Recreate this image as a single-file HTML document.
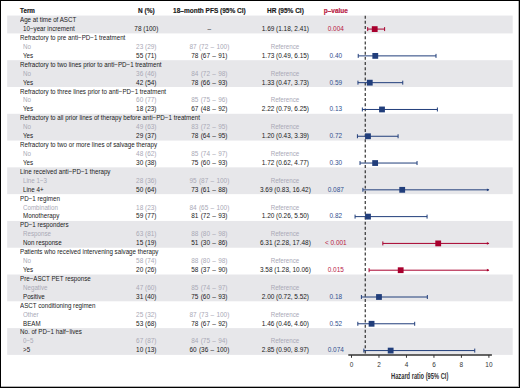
<!DOCTYPE html><html><head><meta charset="utf-8"><style>
*{margin:0;padding:0;box-sizing:border-box}
html,body{width:520px;height:388px;overflow:hidden;background:#fff}
.t{}
body{position:relative;font-family:"Liberation Sans",sans-serif;color:#1a1a1a}
.t{position:absolute;line-height:10px;height:10px;white-space:nowrap}
.c{transform:translateX(-50%)}
.g{color:#a9a9b6}
.b{font-weight:bold;-webkit-text-stroke:0.15px currentColor}
.band{position:absolute;left:7px;width:506px;background:#e7e7ea}
.pr{color:#b8193f}.pb{color:#2f4f8f}
svg{position:absolute;left:0;top:0}
</style></head><body>
<svg width="520" height="388" style="position:absolute;left:0;top:0"><rect x="7.20" y="15.55" width="505.50" height="17.86" fill="#e7e7ea"/><rect x="7.20" y="60.20" width="505.50" height="26.79" fill="#e7e7ea"/><rect x="7.20" y="113.78" width="505.50" height="26.79" fill="#e7e7ea"/><rect x="7.20" y="167.36" width="505.50" height="26.79" fill="#e7e7ea"/><rect x="7.20" y="220.94" width="505.50" height="26.79" fill="#e7e7ea"/><rect x="7.20" y="274.52" width="505.50" height="26.79" fill="#e7e7ea"/><rect x="7.20" y="328.10" width="505.50" height="26.79" fill="#e7e7ea"/></svg>
<div class="t b" style="left:19.70px;top:5.75px;font-size:6.50px;transform:scaleX(0.970);transform-origin:0 0;">Term</div>
<div class="t b" style="left:146.30px;top:5.75px;font-size:6.50px;transform:translateX(-50%);transform-origin:50% 0;">N (%)</div>
<div class="t b" style="left:209.40px;top:5.75px;font-size:6.50px;transform:translateX(-50%);transform-origin:50% 0;">18–month PFS (95% CI)</div>
<div class="t b" style="left:285.40px;top:5.75px;font-size:6.50px;transform:translateX(-50%);transform-origin:50% 0;">HR (95% CI)</div>
<div class="t b pr" style="left:335.80px;top:5.75px;font-size:6.50px;transform:translateX(-50%);transform-origin:50% 0;">p–value</div>
<div class="t" style="left:19.70px;top:14.77px;font-size:6.45px;transform:scaleX(0.965);transform-origin:0 0;">Age at time of ASCT</div>
<div class="t" style="left:23.00px;top:23.77px;font-size:6.45px;transform:scaleX(0.965);transform-origin:0 0;">10−year increment</div>
<div class="t" style="left:146.30px;top:23.77px;font-size:6.45px;transform:translateX(-50%);transform-origin:50% 0;">78 (100)</div>
<div class="t" style="left:209.40px;top:23.77px;font-size:6.45px;transform:translateX(-50%);transform-origin:50% 0;word-spacing:0.5px">–</div>
<div class="t" style="left:285.40px;top:23.77px;font-size:6.45px;transform:translateX(-50%);transform-origin:50% 0;">1.69 (1.18, 2.41)</div>
<div class="t pr" style="left:335.80px;top:23.77px;font-size:6.45px;transform:translateX(-50%);transform-origin:50% 0;">0.004</div>
<div class="t" style="left:19.70px;top:32.77px;font-size:6.45px;transform:scaleX(0.965);transform-origin:0 0;">Refractory to pre anti−PD−1 treatment</div>
<div class="t g" style="left:23.00px;top:41.77px;font-size:6.45px;transform:scaleX(0.965);transform-origin:0 0;">No</div>
<div class="t g" style="left:146.30px;top:41.77px;font-size:6.45px;transform:translateX(-50%);transform-origin:50% 0;">23 (29)</div>
<div class="t g" style="left:209.40px;top:41.77px;font-size:6.45px;transform:translateX(-50%);transform-origin:50% 0;word-spacing:0.5px">87 (72 – 100)</div>
<div class="t g" style="left:285.40px;top:41.77px;font-size:6.45px;transform:translateX(-50%) scaleX(0.965);transform-origin:50% 0;">Reference</div>
<div class="t" style="left:23.00px;top:50.77px;font-size:6.45px;transform:scaleX(0.965);transform-origin:0 0;">Yes</div>
<div class="t" style="left:146.30px;top:50.77px;font-size:6.45px;transform:translateX(-50%);transform-origin:50% 0;">55 (71)</div>
<div class="t" style="left:209.40px;top:50.77px;font-size:6.45px;transform:translateX(-50%);transform-origin:50% 0;word-spacing:0.5px">78 (67 – 91)</div>
<div class="t" style="left:285.40px;top:50.77px;font-size:6.45px;transform:translateX(-50%);transform-origin:50% 0;">1.73 (0.49, 6.15)</div>
<div class="t pb" style="left:335.80px;top:50.77px;font-size:6.45px;transform:translateX(-50%);transform-origin:50% 0;">0.40</div>
<div class="t" style="left:19.70px;top:59.77px;font-size:6.45px;transform:scaleX(0.965);transform-origin:0 0;">Refractory to two lines prior to anti−PD−1 treatment</div>
<div class="t g" style="left:23.00px;top:68.77px;font-size:6.45px;transform:scaleX(0.965);transform-origin:0 0;">No</div>
<div class="t g" style="left:146.30px;top:68.77px;font-size:6.45px;transform:translateX(-50%);transform-origin:50% 0;">36 (46)</div>
<div class="t g" style="left:209.40px;top:68.77px;font-size:6.45px;transform:translateX(-50%);transform-origin:50% 0;word-spacing:0.5px">84 (72 – 98)</div>
<div class="t g" style="left:285.40px;top:68.77px;font-size:6.45px;transform:translateX(-50%) scaleX(0.965);transform-origin:50% 0;">Reference</div>
<div class="t" style="left:23.00px;top:77.77px;font-size:6.45px;transform:scaleX(0.965);transform-origin:0 0;">Yes</div>
<div class="t" style="left:146.30px;top:77.77px;font-size:6.45px;transform:translateX(-50%);transform-origin:50% 0;">42 (54)</div>
<div class="t" style="left:209.40px;top:77.77px;font-size:6.45px;transform:translateX(-50%);transform-origin:50% 0;word-spacing:0.5px">78 (66 – 93)</div>
<div class="t" style="left:285.40px;top:77.77px;font-size:6.45px;transform:translateX(-50%);transform-origin:50% 0;">1.33 (0.47, 3.73)</div>
<div class="t pb" style="left:335.80px;top:77.77px;font-size:6.45px;transform:translateX(-50%);transform-origin:50% 0;">0.59</div>
<div class="t" style="left:19.70px;top:86.77px;font-size:6.45px;transform:scaleX(0.965);transform-origin:0 0;">Refractory to three lines prior to anti−PD−1 treatment</div>
<div class="t g" style="left:23.00px;top:94.77px;font-size:6.45px;transform:scaleX(0.965);transform-origin:0 0;">No</div>
<div class="t g" style="left:146.30px;top:94.77px;font-size:6.45px;transform:translateX(-50%);transform-origin:50% 0;">60 (77)</div>
<div class="t g" style="left:209.40px;top:94.77px;font-size:6.45px;transform:translateX(-50%);transform-origin:50% 0;word-spacing:0.5px">85 (75 – 96)</div>
<div class="t g" style="left:285.40px;top:94.77px;font-size:6.45px;transform:translateX(-50%) scaleX(0.965);transform-origin:50% 0;">Reference</div>
<div class="t" style="left:23.00px;top:103.77px;font-size:6.45px;transform:scaleX(0.965);transform-origin:0 0;">Yes</div>
<div class="t" style="left:146.30px;top:103.77px;font-size:6.45px;transform:translateX(-50%);transform-origin:50% 0;">18 (23)</div>
<div class="t" style="left:209.40px;top:103.77px;font-size:6.45px;transform:translateX(-50%);transform-origin:50% 0;word-spacing:0.5px">67 (48 – 92)</div>
<div class="t" style="left:285.40px;top:103.77px;font-size:6.45px;transform:translateX(-50%);transform-origin:50% 0;">2.22 (0.79, 6.25)</div>
<div class="t pb" style="left:335.80px;top:103.77px;font-size:6.45px;transform:translateX(-50%);transform-origin:50% 0;">0.13</div>
<div class="t" style="left:19.70px;top:112.77px;font-size:6.45px;transform:scaleX(0.965);transform-origin:0 0;">Refractory to all prior lines of therapy before anti−PD−1 treatment</div>
<div class="t g" style="left:23.00px;top:121.77px;font-size:6.45px;transform:scaleX(0.965);transform-origin:0 0;">No</div>
<div class="t g" style="left:146.30px;top:121.77px;font-size:6.45px;transform:translateX(-50%);transform-origin:50% 0;">49 (63)</div>
<div class="t g" style="left:209.40px;top:121.77px;font-size:6.45px;transform:translateX(-50%);transform-origin:50% 0;word-spacing:0.5px">83 (72 – 95)</div>
<div class="t g" style="left:285.40px;top:121.77px;font-size:6.45px;transform:translateX(-50%) scaleX(0.965);transform-origin:50% 0;">Reference</div>
<div class="t" style="left:23.00px;top:130.77px;font-size:6.45px;transform:scaleX(0.965);transform-origin:0 0;">Yes</div>
<div class="t" style="left:146.30px;top:130.77px;font-size:6.45px;transform:translateX(-50%);transform-origin:50% 0;">29 (37)</div>
<div class="t" style="left:209.40px;top:130.77px;font-size:6.45px;transform:translateX(-50%);transform-origin:50% 0;word-spacing:0.5px">78 (64 – 95)</div>
<div class="t" style="left:285.40px;top:130.77px;font-size:6.45px;transform:translateX(-50%);transform-origin:50% 0;">1.20 (0.43, 3.39)</div>
<div class="t pb" style="left:335.80px;top:130.77px;font-size:6.45px;transform:translateX(-50%);transform-origin:50% 0;">0.72</div>
<div class="t" style="left:19.70px;top:139.77px;font-size:6.45px;transform:scaleX(0.965);transform-origin:0 0;">Refractory to two or more lines of salvage therapy</div>
<div class="t g" style="left:23.00px;top:148.77px;font-size:6.45px;transform:scaleX(0.965);transform-origin:0 0;">No</div>
<div class="t g" style="left:146.30px;top:148.77px;font-size:6.45px;transform:translateX(-50%);transform-origin:50% 0;">48 (62)</div>
<div class="t g" style="left:209.40px;top:148.77px;font-size:6.45px;transform:translateX(-50%);transform-origin:50% 0;word-spacing:0.5px">85 (74 – 97)</div>
<div class="t g" style="left:285.40px;top:148.77px;font-size:6.45px;transform:translateX(-50%) scaleX(0.965);transform-origin:50% 0;">Reference</div>
<div class="t" style="left:23.00px;top:157.77px;font-size:6.45px;transform:scaleX(0.965);transform-origin:0 0;">Yes</div>
<div class="t" style="left:146.30px;top:157.77px;font-size:6.45px;transform:translateX(-50%);transform-origin:50% 0;">30 (38)</div>
<div class="t" style="left:209.40px;top:157.77px;font-size:6.45px;transform:translateX(-50%);transform-origin:50% 0;word-spacing:0.5px">75 (60 – 93)</div>
<div class="t" style="left:285.40px;top:157.77px;font-size:6.45px;transform:translateX(-50%);transform-origin:50% 0;">1.72 (0.62, 4.77)</div>
<div class="t pb" style="left:335.80px;top:157.77px;font-size:6.45px;transform:translateX(-50%);transform-origin:50% 0;">0.30</div>
<div class="t" style="left:19.70px;top:166.77px;font-size:6.45px;transform:scaleX(0.965);transform-origin:0 0;">Line received anti−PD−1 therapy</div>
<div class="t g" style="left:23.00px;top:175.77px;font-size:6.45px;transform:scaleX(0.965);transform-origin:0 0;">Line 1−3</div>
<div class="t g" style="left:146.30px;top:175.77px;font-size:6.45px;transform:translateX(-50%);transform-origin:50% 0;">28 (36)</div>
<div class="t g" style="left:209.40px;top:175.77px;font-size:6.45px;transform:translateX(-50%);transform-origin:50% 0;word-spacing:0.5px">95 (87 – 100)</div>
<div class="t g" style="left:285.40px;top:175.77px;font-size:6.45px;transform:translateX(-50%) scaleX(0.965);transform-origin:50% 0;">Reference</div>
<div class="t" style="left:23.00px;top:184.77px;font-size:6.45px;transform:scaleX(0.965);transform-origin:0 0;">Line 4+</div>
<div class="t" style="left:146.30px;top:184.77px;font-size:6.45px;transform:translateX(-50%);transform-origin:50% 0;">50 (64)</div>
<div class="t" style="left:209.40px;top:184.77px;font-size:6.45px;transform:translateX(-50%);transform-origin:50% 0;word-spacing:0.5px">73 (61 – 88)</div>
<div class="t" style="left:285.40px;top:184.77px;font-size:6.45px;transform:translateX(-50%);transform-origin:50% 0;">3.69 (0.83, 16.42)</div>
<div class="t pb" style="left:335.80px;top:184.77px;font-size:6.45px;transform:translateX(-50%);transform-origin:50% 0;">0.087</div>
<div class="t" style="left:19.70px;top:193.77px;font-size:6.45px;transform:scaleX(0.965);transform-origin:0 0;">PD−1 regimen</div>
<div class="t g" style="left:23.00px;top:202.77px;font-size:6.45px;transform:scaleX(0.965);transform-origin:0 0;">Combination</div>
<div class="t g" style="left:146.30px;top:202.77px;font-size:6.45px;transform:translateX(-50%);transform-origin:50% 0;">18 (23)</div>
<div class="t g" style="left:209.40px;top:202.77px;font-size:6.45px;transform:translateX(-50%);transform-origin:50% 0;word-spacing:0.5px">84 (65 – 100)</div>
<div class="t g" style="left:285.40px;top:202.77px;font-size:6.45px;transform:translateX(-50%) scaleX(0.965);transform-origin:50% 0;">Reference</div>
<div class="t" style="left:23.00px;top:210.77px;font-size:6.45px;transform:scaleX(0.965);transform-origin:0 0;">Monotherapy</div>
<div class="t" style="left:146.30px;top:210.77px;font-size:6.45px;transform:translateX(-50%);transform-origin:50% 0;">59 (77)</div>
<div class="t" style="left:209.40px;top:210.77px;font-size:6.45px;transform:translateX(-50%);transform-origin:50% 0;word-spacing:0.5px">81 (72 – 93)</div>
<div class="t" style="left:285.40px;top:210.77px;font-size:6.45px;transform:translateX(-50%);transform-origin:50% 0;">1.20 (0.26, 5.50)</div>
<div class="t pb" style="left:335.80px;top:210.77px;font-size:6.45px;transform:translateX(-50%);transform-origin:50% 0;">0.82</div>
<div class="t" style="left:19.70px;top:219.77px;font-size:6.45px;transform:scaleX(0.965);transform-origin:0 0;">PD−1 responders</div>
<div class="t g" style="left:23.00px;top:228.77px;font-size:6.45px;transform:scaleX(0.965);transform-origin:0 0;">Response</div>
<div class="t g" style="left:146.30px;top:228.77px;font-size:6.45px;transform:translateX(-50%);transform-origin:50% 0;">63 (81)</div>
<div class="t g" style="left:209.40px;top:228.77px;font-size:6.45px;transform:translateX(-50%);transform-origin:50% 0;word-spacing:0.5px">88 (80 – 98)</div>
<div class="t g" style="left:285.40px;top:228.77px;font-size:6.45px;transform:translateX(-50%) scaleX(0.965);transform-origin:50% 0;">Reference</div>
<div class="t" style="left:23.00px;top:237.77px;font-size:6.45px;transform:scaleX(0.965);transform-origin:0 0;">Non response</div>
<div class="t" style="left:146.30px;top:237.77px;font-size:6.45px;transform:translateX(-50%);transform-origin:50% 0;">15 (19)</div>
<div class="t" style="left:209.40px;top:237.77px;font-size:6.45px;transform:translateX(-50%);transform-origin:50% 0;word-spacing:0.5px">51 (30 – 86)</div>
<div class="t" style="left:285.40px;top:237.77px;font-size:6.45px;transform:translateX(-50%);transform-origin:50% 0;">6.31 (2.28, 17.48)</div>
<div class="t pr" style="left:335.80px;top:237.77px;font-size:6.45px;transform:translateX(-50%);transform-origin:50% 0;">&lt; 0.001</div>
<div class="t" style="left:19.70px;top:246.77px;font-size:6.45px;transform:scaleX(0.965);transform-origin:0 0;">Patients who received intervening salvage therapy</div>
<div class="t g" style="left:23.00px;top:255.77px;font-size:6.45px;transform:scaleX(0.965);transform-origin:0 0;">No</div>
<div class="t g" style="left:146.30px;top:255.77px;font-size:6.45px;transform:translateX(-50%);transform-origin:50% 0;">58 (74)</div>
<div class="t g" style="left:209.40px;top:255.77px;font-size:6.45px;transform:translateX(-50%);transform-origin:50% 0;word-spacing:0.5px">88 (80 – 98)</div>
<div class="t g" style="left:285.40px;top:255.77px;font-size:6.45px;transform:translateX(-50%) scaleX(0.965);transform-origin:50% 0;">Reference</div>
<div class="t" style="left:23.00px;top:264.77px;font-size:6.45px;transform:scaleX(0.965);transform-origin:0 0;">Yes</div>
<div class="t" style="left:146.30px;top:264.77px;font-size:6.45px;transform:translateX(-50%);transform-origin:50% 0;">20 (26)</div>
<div class="t" style="left:209.40px;top:264.77px;font-size:6.45px;transform:translateX(-50%);transform-origin:50% 0;word-spacing:0.5px">58 (37 – 90)</div>
<div class="t" style="left:285.40px;top:264.77px;font-size:6.45px;transform:translateX(-50%);transform-origin:50% 0;">3.58 (1.28, 10.06)</div>
<div class="t pr" style="left:335.80px;top:264.77px;font-size:6.45px;transform:translateX(-50%);transform-origin:50% 0;">0.015</div>
<div class="t" style="left:19.70px;top:273.77px;font-size:6.45px;transform:scaleX(0.965);transform-origin:0 0;">Pre−ASCT PET response</div>
<div class="t g" style="left:23.00px;top:282.77px;font-size:6.45px;transform:scaleX(0.965);transform-origin:0 0;">Negative</div>
<div class="t g" style="left:146.30px;top:282.77px;font-size:6.45px;transform:translateX(-50%);transform-origin:50% 0;">47 (60)</div>
<div class="t g" style="left:209.40px;top:282.77px;font-size:6.45px;transform:translateX(-50%);transform-origin:50% 0;word-spacing:0.5px">85 (74 – 97)</div>
<div class="t g" style="left:285.40px;top:282.77px;font-size:6.45px;transform:translateX(-50%) scaleX(0.965);transform-origin:50% 0;">Reference</div>
<div class="t" style="left:23.00px;top:291.77px;font-size:6.45px;transform:scaleX(0.965);transform-origin:0 0;">Positive</div>
<div class="t" style="left:146.30px;top:291.77px;font-size:6.45px;transform:translateX(-50%);transform-origin:50% 0;">31 (40)</div>
<div class="t" style="left:209.40px;top:291.77px;font-size:6.45px;transform:translateX(-50%);transform-origin:50% 0;word-spacing:0.5px">75 (60 – 93)</div>
<div class="t" style="left:285.40px;top:291.77px;font-size:6.45px;transform:translateX(-50%);transform-origin:50% 0;">2.00 (0.72, 5.52)</div>
<div class="t pb" style="left:335.80px;top:291.77px;font-size:6.45px;transform:translateX(-50%);transform-origin:50% 0;">0.18</div>
<div class="t" style="left:19.70px;top:300.77px;font-size:6.45px;transform:scaleX(0.965);transform-origin:0 0;">ASCT conditioning regimen</div>
<div class="t g" style="left:23.00px;top:309.77px;font-size:6.45px;transform:scaleX(0.965);transform-origin:0 0;">Other</div>
<div class="t g" style="left:146.30px;top:309.77px;font-size:6.45px;transform:translateX(-50%);transform-origin:50% 0;">25 (32)</div>
<div class="t g" style="left:209.40px;top:309.77px;font-size:6.45px;transform:translateX(-50%);transform-origin:50% 0;word-spacing:0.5px">87 (73 – 100)</div>
<div class="t g" style="left:285.40px;top:309.77px;font-size:6.45px;transform:translateX(-50%) scaleX(0.965);transform-origin:50% 0;">Reference</div>
<div class="t" style="left:23.00px;top:318.77px;font-size:6.45px;transform:scaleX(0.965);transform-origin:0 0;">BEAM</div>
<div class="t" style="left:146.30px;top:318.77px;font-size:6.45px;transform:translateX(-50%);transform-origin:50% 0;">53 (68)</div>
<div class="t" style="left:209.40px;top:318.77px;font-size:6.45px;transform:translateX(-50%);transform-origin:50% 0;word-spacing:0.5px">78 (67 – 92)</div>
<div class="t" style="left:285.40px;top:318.77px;font-size:6.45px;transform:translateX(-50%);transform-origin:50% 0;">1.46 (0.46, 4.60)</div>
<div class="t pb" style="left:335.80px;top:318.77px;font-size:6.45px;transform:translateX(-50%);transform-origin:50% 0;">0.52</div>
<div class="t" style="left:19.70px;top:326.77px;font-size:6.45px;transform:scaleX(0.965);transform-origin:0 0;">No. of PD−1 half−lives</div>
<div class="t g" style="left:23.00px;top:335.77px;font-size:6.45px;transform:scaleX(0.965);transform-origin:0 0;">0−5</div>
<div class="t g" style="left:146.30px;top:335.77px;font-size:6.45px;transform:translateX(-50%);transform-origin:50% 0;">67 (87)</div>
<div class="t g" style="left:209.40px;top:335.77px;font-size:6.45px;transform:translateX(-50%);transform-origin:50% 0;word-spacing:0.5px">84 (75 – 94)</div>
<div class="t g" style="left:285.40px;top:335.77px;font-size:6.45px;transform:translateX(-50%) scaleX(0.965);transform-origin:50% 0;">Reference</div>
<div class="t" style="left:23.00px;top:344.77px;font-size:6.45px;transform:scaleX(0.965);transform-origin:0 0;">&gt;5</div>
<div class="t" style="left:146.30px;top:344.77px;font-size:6.45px;transform:translateX(-50%);transform-origin:50% 0;">10 (13)</div>
<div class="t" style="left:209.40px;top:344.77px;font-size:6.45px;transform:translateX(-50%);transform-origin:50% 0;word-spacing:0.5px">60 (36 – 100)</div>
<div class="t" style="left:285.40px;top:344.77px;font-size:6.45px;transform:translateX(-50%);transform-origin:50% 0;">2.85 (0.90, 8.97)</div>
<div class="t pb" style="left:335.80px;top:344.77px;font-size:6.45px;transform:translateX(-50%);transform-origin:50% 0;">0.074</div>
<svg width="520" height="388" viewBox="0 0 520 388"><line x1="365.24" y1="15.71" x2="365.24" y2="355" stroke="#222" stroke-width="1.10" stroke-dasharray="2.95 2.2"/><line x1="367.71" y1="29.09" x2="384.61" y2="29.09" stroke="#a8002e" stroke-width="1.00"/><line x1="367.71" y1="27.09" x2="367.71" y2="31.09" stroke="#a8002e" stroke-width="1"/><line x1="384.61" y1="27.09" x2="384.61" y2="31.09" stroke="#a8002e" stroke-width="1"/><rect x="371.82" y="26.20" width="5.80" height="5.80" fill="#a8002e"/><line x1="358.23" y1="55.89" x2="436.00" y2="55.89" stroke="#213e7b" stroke-width="1.00"/><line x1="358.23" y1="53.89" x2="358.23" y2="57.89" stroke="#213e7b" stroke-width="1"/><line x1="436.00" y1="53.89" x2="436.00" y2="57.89" stroke="#213e7b" stroke-width="1"/><rect x="372.37" y="52.99" width="5.80" height="5.80" fill="#213e7b"/><line x1="357.96" y1="82.67" x2="402.75" y2="82.67" stroke="#213e7b" stroke-width="1.00"/><line x1="357.96" y1="80.67" x2="357.96" y2="84.67" stroke="#213e7b" stroke-width="1"/><line x1="402.75" y1="80.67" x2="402.75" y2="84.67" stroke="#213e7b" stroke-width="1"/><rect x="366.87" y="79.77" width="5.80" height="5.80" fill="#213e7b"/><line x1="362.35" y1="109.47" x2="437.38" y2="109.47" stroke="#213e7b" stroke-width="1.00"/><line x1="362.35" y1="107.47" x2="362.35" y2="111.47" stroke="#213e7b" stroke-width="1"/><line x1="437.38" y1="107.47" x2="437.38" y2="111.47" stroke="#213e7b" stroke-width="1"/><rect x="379.10" y="106.56" width="5.80" height="5.80" fill="#213e7b"/><line x1="357.41" y1="136.25" x2="398.08" y2="136.25" stroke="#213e7b" stroke-width="1.00"/><line x1="357.41" y1="134.25" x2="357.41" y2="138.25" stroke="#213e7b" stroke-width="1"/><line x1="398.08" y1="134.25" x2="398.08" y2="138.25" stroke="#213e7b" stroke-width="1"/><rect x="365.09" y="133.35" width="5.80" height="5.80" fill="#213e7b"/><line x1="360.02" y1="163.04" x2="417.04" y2="163.04" stroke="#213e7b" stroke-width="1.00"/><line x1="360.02" y1="161.04" x2="360.02" y2="165.04" stroke="#213e7b" stroke-width="1"/><line x1="417.04" y1="161.04" x2="417.04" y2="165.04" stroke="#213e7b" stroke-width="1"/><rect x="372.23" y="160.14" width="5.80" height="5.80" fill="#213e7b"/><line x1="362.90" y1="189.83" x2="488.90" y2="189.83" stroke="#213e7b" stroke-width="1.00"/><line x1="362.90" y1="187.83" x2="362.90" y2="191.83" stroke="#213e7b" stroke-width="1"/><path d="M489.40 189.83L486.90 188.43L486.90 191.23Z" fill="#213e7b"/><rect x="399.30" y="186.93" width="5.80" height="5.80" fill="#213e7b"/><line x1="355.07" y1="216.62" x2="427.07" y2="216.62" stroke="#213e7b" stroke-width="1.00"/><line x1="355.07" y1="214.62" x2="355.07" y2="218.62" stroke="#213e7b" stroke-width="1"/><line x1="427.07" y1="214.62" x2="427.07" y2="218.62" stroke="#213e7b" stroke-width="1"/><rect x="365.09" y="213.72" width="5.80" height="5.80" fill="#213e7b"/><line x1="382.83" y1="243.41" x2="488.90" y2="243.41" stroke="#a8002e" stroke-width="1.00"/><line x1="382.83" y1="241.41" x2="382.83" y2="245.41" stroke="#a8002e" stroke-width="1"/><path d="M489.40 243.41L486.90 242.01L486.90 244.81Z" fill="#a8002e"/><rect x="435.30" y="240.51" width="5.80" height="5.80" fill="#a8002e"/><line x1="369.09" y1="270.20" x2="488.90" y2="270.20" stroke="#a8002e" stroke-width="1.00"/><line x1="369.09" y1="268.20" x2="369.09" y2="272.20" stroke="#a8002e" stroke-width="1"/><path d="M489.40 270.20L486.90 268.81L486.90 271.60Z" fill="#a8002e"/><rect x="397.79" y="267.31" width="5.80" height="5.80" fill="#a8002e"/><line x1="361.39" y1="297.00" x2="427.34" y2="297.00" stroke="#213e7b" stroke-width="1.00"/><line x1="361.39" y1="295.00" x2="361.39" y2="299.00" stroke="#213e7b" stroke-width="1"/><line x1="427.34" y1="295.00" x2="427.34" y2="299.00" stroke="#213e7b" stroke-width="1"/><rect x="376.08" y="294.10" width="5.80" height="5.80" fill="#213e7b"/><line x1="357.82" y1="323.78" x2="414.70" y2="323.78" stroke="#213e7b" stroke-width="1.00"/><line x1="357.82" y1="321.78" x2="357.82" y2="325.78" stroke="#213e7b" stroke-width="1"/><line x1="414.70" y1="321.78" x2="414.70" y2="325.78" stroke="#213e7b" stroke-width="1"/><rect x="368.66" y="320.88" width="5.80" height="5.80" fill="#213e7b"/><line x1="363.87" y1="350.57" x2="474.75" y2="350.57" stroke="#213e7b" stroke-width="1.00"/><line x1="363.87" y1="348.57" x2="363.87" y2="352.57" stroke="#213e7b" stroke-width="1"/><line x1="474.75" y1="348.57" x2="474.75" y2="352.57" stroke="#213e7b" stroke-width="1"/><rect x="387.76" y="347.68" width="5.80" height="5.80" fill="#213e7b"/><line x1="348.3" y1="355" x2="491.9" y2="355" stroke="#333" stroke-width="1.6"/><line x1="351.50" y1="355" x2="351.50" y2="357.8" stroke="#333" stroke-width="1"/><line x1="378.98" y1="355" x2="378.98" y2="357.8" stroke="#333" stroke-width="1"/><line x1="406.46" y1="355" x2="406.46" y2="357.8" stroke="#333" stroke-width="1"/><line x1="433.94" y1="355" x2="433.94" y2="357.8" stroke="#333" stroke-width="1"/><line x1="461.42" y1="355" x2="461.42" y2="357.8" stroke="#333" stroke-width="1"/><line x1="488.90" y1="355" x2="488.90" y2="357.8" stroke="#333" stroke-width="1"/></svg>
<div class="t" style="left:351.50px;top:359.77px;font-size:6.45px;transform:translateX(-50%);transform-origin:50% 0;color:#333">0</div>
<div class="t" style="left:378.98px;top:359.77px;font-size:6.45px;transform:translateX(-50%);transform-origin:50% 0;color:#333">2</div>
<div class="t" style="left:406.46px;top:359.77px;font-size:6.45px;transform:translateX(-50%);transform-origin:50% 0;color:#333">4</div>
<div class="t" style="left:433.94px;top:359.77px;font-size:6.45px;transform:translateX(-50%);transform-origin:50% 0;color:#333">6</div>
<div class="t" style="left:461.42px;top:359.77px;font-size:6.45px;transform:translateX(-50%);transform-origin:50% 0;color:#333">8</div>
<div class="t" style="left:488.90px;top:359.77px;font-size:6.45px;transform:translateX(-50%);transform-origin:50% 0;color:#333">10</div>
<div class="t" style="left:391.10px;top:372.16px;font-size:8.20px;font-weight:bold;color:#333;transform-origin:0 0;transform:scaleX(0.700)">Hazard ratio (95% CI)</div>
<div style="position:absolute;left:0;top:0;width:520px;height:1px;background:#000"></div>
<div style="position:absolute;left:0;top:0;width:1px;height:388px;background:#000"></div>
<div style="position:absolute;left:519px;top:0;width:1px;height:388px;background:#000"></div>
<div style="position:absolute;left:518px;top:0;width:1px;height:388px;background:rgba(0,0,0,.3)"></div>
<div style="position:absolute;left:0;top:387px;width:520px;height:1px;background:#000"></div>
<div style="position:absolute;left:0;top:386px;width:518px;height:1px;background:rgba(0,0,0,.3)"></div>
</body></html>
